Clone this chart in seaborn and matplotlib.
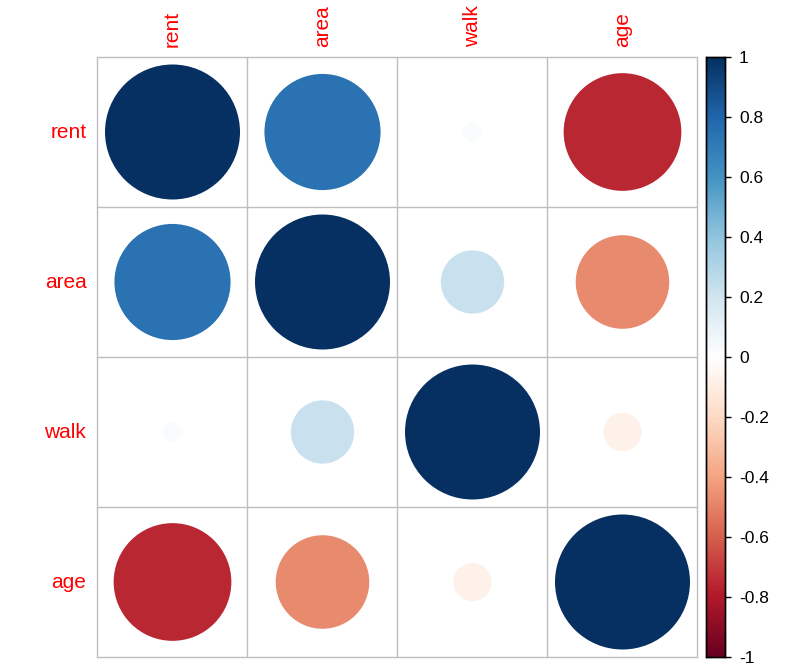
import numpy as np
import pandas as pd
import matplotlib
matplotlib.use("Agg")
import matplotlib.pyplot as plt
from matplotlib.colors import LinearSegmentedColormap
from matplotlib.patches import Circle
import seaborn as sns

variables = ["rent", "area", "walk", "age"]
rent_corr = [1.00, 0.74, 0.02, -0.76]
area_corr = [0.74, 1.00, 0.22, -0.48]
walk_corr = [0.02, 0.22, 1.00, -0.08]
age_corr = [-0.76, -0.48, -0.08, 1.00]
cbar_ticks = [1, 0.8, 0.6, 0.4, 0.2, 0, -0.2, -0.4, -0.6, -0.8, -1]
cbar_labels = ["1", "0.8", "0.6", "0.4", "0.2", "0", "-0.2", "-0.4", "-0.6", "-0.8", "-1"]

corr = pd.DataFrame([rent_corr, area_corr, walk_corr, age_corr],
                    index=variables, columns=variables)

sns.set_theme(style="white")
plt.rcParams['font.family'] = ['Liberation Sans', 'DejaVu Sans']

palette = ["#67001F", "#B2182B", "#D6604D", "#F4A582", "#FDDBC7", "#FFFFFF",
           "#D1E5F0", "#92C5DE", "#4393C3", "#2166AC", "#053061"]
cmap = LinearSegmentedColormap.from_list("corrRdBu", palette, N=200)

W, H = 812, 672
fig = plt.figure(figsize=(W / 100, H / 100), dpi=100)
ax = fig.add_axes([97.5 / W, (H - 657) / H, 600 / W, 600 / H])
cax = fig.add_axes([706 / W, (H - 657) / H, 19 / W, 600 / H])

mask = np.ones_like(corr.values, dtype=bool)
sns.heatmap(corr, mask=mask, cmap=cmap, vmin=-1, vmax=1, ax=ax, cbar_ax=cax,
            square=False, cbar=True)

n = len(variables)
for i in range(n):
    for j in range(n):
        v = corr.iloc[i, j]
        ax.add_patch(Circle((j + 0.5, i + 0.5), 0.45 * np.sqrt(abs(v)),
                            facecolor=cmap((v + 1) / 2), edgecolor='none', zorder=2))

for k in range(n + 1):
    ax.axhline(k, color="#BEBEBE", lw=1, zorder=1, clip_on=False)
    ax.axvline(k, color="#BEBEBE", lw=1, zorder=1, clip_on=False)

ax.set_xlim(0, n)
ax.set_ylim(n, 0)
ax.xaxis.tick_top()
ax.set_xticks(np.arange(n) + 0.5)
ax.set_yticks(np.arange(n) + 0.5)
ax.set_xticklabels(variables, rotation=90, color="red", fontsize=15)
ax.set_yticklabels(variables, rotation=0, color="red", fontsize=15)
ax.tick_params(axis='x', length=0, pad=7)
ax.tick_params(axis='y', length=0, pad=8)
ax.set_xlabel("")
ax.set_ylabel("")
for s in ax.spines.values():
    s.set_visible(False)

cax.set_yticks(cbar_ticks)
cax.set_yticklabels(cbar_labels, fontsize=12.5, color="black")
cax.tick_params(axis='y', length=4, width=1, color="black", pad=6, right=True, left=False)
for s in cax.spines.values():
    s.set_visible(True)
    s.set_color("black")
    s.set_linewidth(1)
cbar = ax.collections[0].colorbar
cbar.outline.set_visible(True)
cbar.outline.set_edgecolor("black")
cbar.outline.set_linewidth(1)

fig.savefig("out.png", dpi=100, facecolor="white")
